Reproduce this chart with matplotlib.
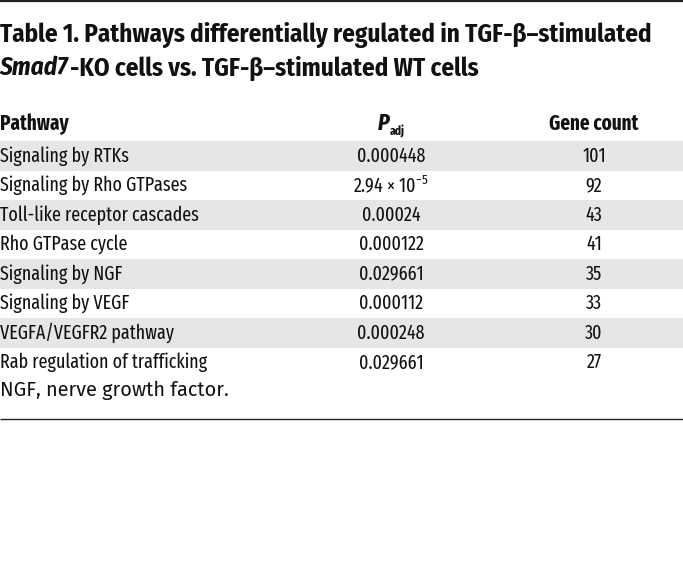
import matplotlib
matplotlib.use("Agg")
import matplotlib.pyplot as plt
from matplotlib.patches import Rectangle

COND = "Fira Sans Condensed"
XCOND = "Fira Sans Extra Condensed"
plt.rcParams['font.family'] = [XCOND, 'DejaVu Sans']
plt.rcParams['mathtext.fontset'] = 'custom'
plt.rcParams['mathtext.rm'] = XCOND
plt.rcParams['mathtext.it'] = XCOND + ':italic'
plt.rcParams['mathtext.bf'] = XCOND + ':bold'

title1 = "Table 1. Pathways differentially regulated in TGF-β–stimulated"
title2_it = "Smad7"
title2_rest = "-KO cells vs. TGF-β–stimulated WT cells"
col_headers = ["Pathway", "P", "Gene count"]
pathways = ["Signaling by RTKs", "Signaling by Rho GTPases", "Toll-like receptor cascades",
            "Rho GTPase cycle", "Signaling by NGF", "Signaling by VEGF",
            "VEGFA/VEGFR2 pathway", "Rab regulation of trafficking"]
padj = ["0.000448", r"2.94 × 10$^{-5}$", "0.00024", "0.000122", "0.029661",
        "0.000112", "0.000248", "0.029661"]
counts = [101, 92, 43, 41, 35, 33, 30, 27]
footnote = "NGF, nerve growth factor."

W, H = 683, 582
fig = plt.figure(figsize=(W / 100, H / 100), dpi=100)
ax = fig.add_axes([0, 0, 1, 1])
ax.set_xlim(0, W)
ax.set_ylim(H, 0)
ax.axis('off')
renderer = fig.canvas.get_renderer()


def fit_size(s, target, **kw):
    t = ax.text(0, 0, s, fontsize=10, **kw)
    w = t.get_window_extent(renderer).width
    t.remove()
    return 10 * target / w


# top and bottom rules
ax.plot([0, W], [1, 1], color='#222222', lw=1.6, solid_capstyle='butt')
ax.plot([0, W], [419, 419], color='#222222', lw=1.0, solid_capstyle='butt')

TFS = fit_size(title1, 655, fontweight='bold', family=[COND, 'DejaVu Sans'])
BFS = fit_size(pathways[7], 208)
HFS = fit_size(col_headers[2], 90, fontweight='bold')
FFS = fit_size(footnote, 228, family=['Fira Sans', 'DejaVu Sans'])

ax.text(0, 35, title1, fontsize=TFS, fontweight='bold', va='center', ha='left', color='#111111',
        family=[COND, 'DejaVu Sans'])
t = ax.text(0, 68, title2_it, fontsize=TFS, fontweight='bold', style='italic', va='center', ha='left',
            color='#111111', family=[COND, 'DejaVu Sans'])
bb = t.get_window_extent(renderer)
ax.text(bb.x1 + 1, 68, title2_rest, fontsize=TFS, fontweight='bold', va='center', ha='left', color='#111111',
        family=[COND, 'DejaVu Sans'])

col_x = [0, 391, 594]
hy = 124
ax.text(col_x[0], hy, col_headers[0], fontsize=HFS, fontweight='bold', va='center', ha='left', color='#111111')
ax.text(col_x[1] - 2, hy - 1, col_headers[1], fontsize=HFS + 2, fontweight='bold', style='italic',
        va='center', ha='right', color='#111111')
ax.text(col_x[1] - 1, hy + 7, "adj", fontsize=HFS - 6, fontweight='bold', va='center', ha='left',
        color='#111111')
ax.text(col_x[2], hy, col_headers[2], fontsize=HFS, fontweight='bold', va='center', ha='center', color='#111111')

row0 = 156
rh = 29.5
for i, (pw, pv, c) in enumerate(zip(pathways, padj, counts)):
    y = row0 + i * rh
    if i % 2 == 0:
        ax.add_patch(Rectangle((0, y - rh / 2), W, rh, facecolor='#e6e6e6', edgecolor='none', zorder=0))
    ax.text(col_x[0], y, pw, fontsize=BFS, va='center', ha='left', color='#111111')
    ax.text(col_x[1], y, pv, fontsize=BFS, va='center', ha='center', color='#111111')
    ax.text(col_x[2], y, str(c), fontsize=BFS, va='center', ha='center', color='#111111')

ax.text(0, 390, footnote, fontsize=FFS, va='center', ha='left', color='#111111',
        family=['Fira Sans', 'DejaVu Sans'])

fig.savefig("out.png", dpi=100)
